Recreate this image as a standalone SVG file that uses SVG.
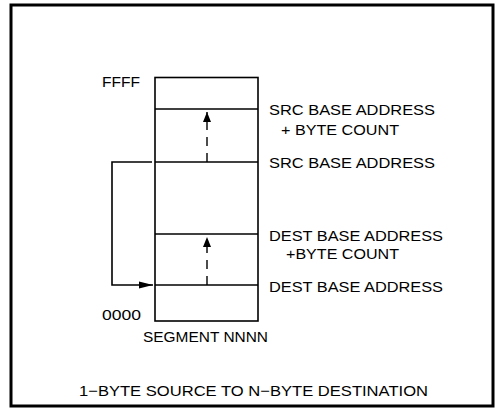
<svg xmlns="http://www.w3.org/2000/svg" width="496" height="411" viewBox="0 0 496 411">
<style>
text{font-family:"Liberation Sans",Arial,sans-serif;font-size:15px;fill:#000}
.ln{stroke:#000;stroke-width:1.6;fill:none}
.dash{stroke:#000;stroke-width:1.4;stroke-dasharray:9,7;fill:none}
</style>
<defs>
<marker id="ah" viewBox="0 0 10 10" refX="10" refY="5" markerWidth="10" markerHeight="10" markerUnits="userSpaceOnUse" orient="auto"><path d="M0,1 L10,5 L0,9 Z" fill="#000"/></marker>
<marker id="ah2" viewBox="0 0 14 8" refX="14" refY="4" markerWidth="14" markerHeight="8" markerUnits="userSpaceOnUse" orient="auto"><path d="M0,0.5 L14,4 L0,7.5 Z" fill="#000"/></marker>
</defs>
<rect x="11" y="5" width="482" height="401" fill="none" stroke="#000" stroke-width="3"/>
<g id="memory">
<rect class="ln" x="155" y="77.5" width="103" height="243.5"/>
<line class="ln" x1="155" y1="109" x2="258" y2="109"/>
<line class="ln" x1="155" y1="162" x2="258" y2="162"/>
<line class="ln" x1="155" y1="234" x2="258" y2="234"/>
<line class="ln" x1="155" y1="285" x2="258" y2="285"/>
<text x="102" y="87" font-size="13" textLength="38" lengthAdjust="spacingAndGlyphs">FFFF</text>
<text x="102" y="320" font-size="13" textLength="39" lengthAdjust="spacingAndGlyphs">0000</text>
<text x="143" y="342" textLength="125" lengthAdjust="spacingAndGlyphs">SEGMENT NNNN</text>
</g>
<g id="labels">
<text x="269" y="115" textLength="166" lengthAdjust="spacingAndGlyphs">SRC BASE ADDRESS</text>
<text x="281" y="135" textLength="118" lengthAdjust="spacingAndGlyphs">+ BYTE COUNT</text>
<text x="269" y="168" textLength="166" lengthAdjust="spacingAndGlyphs">SRC BASE ADDRESS</text>
<text x="269" y="241" textLength="174" lengthAdjust="spacingAndGlyphs">DEST BASE ADDRESS</text>
<text x="286" y="259" textLength="113" lengthAdjust="spacingAndGlyphs">+BYTE COUNT</text>
<text x="269" y="292" textLength="174" lengthAdjust="spacingAndGlyphs">DEST BASE ADDRESS</text>
</g>
<g id="connectors">
<line class="dash" x1="207" y1="162" x2="207" y2="112" marker-end="url(#ah)"/>
<line class="dash" x1="207" y1="285" x2="207" y2="237" marker-end="url(#ah)"/>
<polyline class="ln" points="152,162 112,162 112,285 153,285" marker-end="url(#ah2)"/>
</g>
<text x="79" y="396" textLength="349" lengthAdjust="spacingAndGlyphs">1−BYTE SOURCE TO N−BYTE DESTINATION</text>
</svg>
